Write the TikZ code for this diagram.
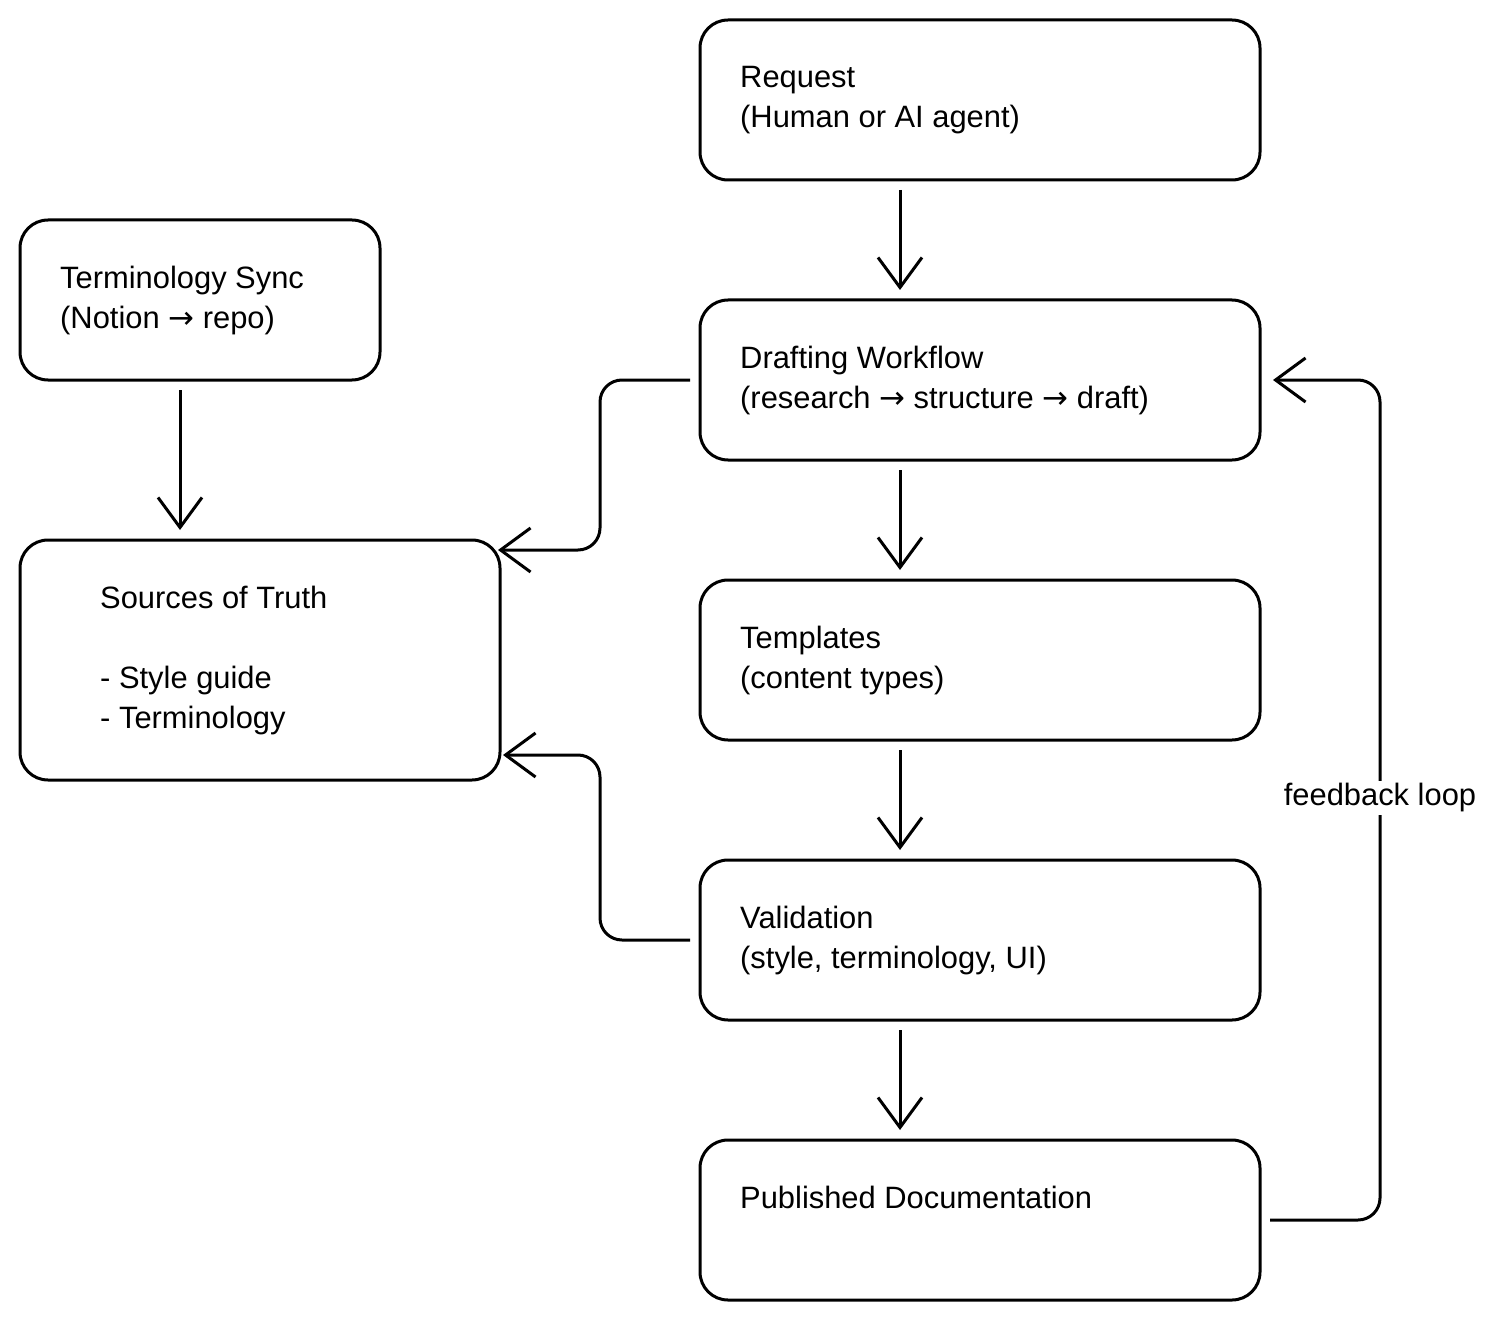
\documentclass[tikz,border=0pt]{standalone}
\usepackage{fontspec}
\setmainfont{Liberation Sans}
\newfontfamily\arrfont{DejaVu Sans}
\usetikzlibrary{arrows.meta}
\newcommand{\ra}{{\arrfont →}}
\begin{document}
\begin{tikzpicture}[x=1bp,y=-1bp,
  box/.style={draw,line width=3bp,rounded corners=28bp},
  txt/.style={anchor=north west,align=left,font=\fontsize{31}{40}\selectfont,inner sep=0},
  conn/.style={line width=3bp,-{Straight Barb[length=30bp,width=44bp,line width=3bp]}},
  loopc/.style={conn,rounded corners=22bp}]
\useasboundingbox[fill=white] (0,0) rectangle (1507,1320);
\draw[box] (700,20) rectangle (1260,180);
\draw[box] (20,220) rectangle (380,380);
\draw[box] (700,300) rectangle (1260,460);
\draw[box] (20,540) rectangle (500,780);
\draw[box] (700,580) rectangle (1260,740);
\draw[box] (700,860) rectangle (1260,1020);
\draw[box] (700,1140) rectangle (1260,1300);
\node[txt] (treq) at (740,66) {Request\\(Human or AI agent)};
\node[txt] (tsync) at (60,266) {Terminology Sync\\(Notion \ra\ repo)};
\node[txt] (tdraft) at (740,346) {Drafting Workflow\\(research \ra\ structure \ra\ draft)};
\node[txt] (tsrc) at (100,586) {Sources of Truth\\[40bp]- Style guide\\- Terminology};
\node[txt] (ttpl) at (740,626) {Templates\\(content types)};
\node[txt] (tval) at (740,906) {Validation\\(style, terminology, UI)};
\node[txt] (tpub) at (740,1186) {Published Documentation};
\coordinate (a1) at (900,190); \coordinate (b1) at (900,290);
\coordinate (a2) at (180,390); \coordinate (b2) at (180,530);
\coordinate (a3) at (900,470); \coordinate (b3) at (900,570);
\coordinate (a4) at (900,750); \coordinate (b4) at (900,850);
\coordinate (a5) at (900,1030); \coordinate (b5) at (900,1130);
\draw[conn] (a1) -- (b1);
\draw[conn] (a2) -- (b2);
\draw[conn] (a3) -- (b3);
\draw[conn] (a4) -- (b4);
\draw[conn] (a5) -- (b5);
\coordinate (d0) at (690,380); \coordinate (d1) at (498,550);
\draw[loopc] (d0) -- (600,380) -- (600,550) -- (d1);
\coordinate (v0) at (690,940); \coordinate (v1) at (503,755);
\draw[loopc] (v0) -- (600,940) -- (600,755) -- (v1);
\coordinate (p0) at (1270,1220); \coordinate (p1) at (1273,380);
\draw[loopc] (p0) -- (1380,1220) -- (1380,380) -- (p1);
\node[fill=white,font=\fontsize{31}{40}\selectfont,inner sep=3bp] (fb) at (1380,798) {feedback loop};
\end{tikzpicture}
\end{document}
